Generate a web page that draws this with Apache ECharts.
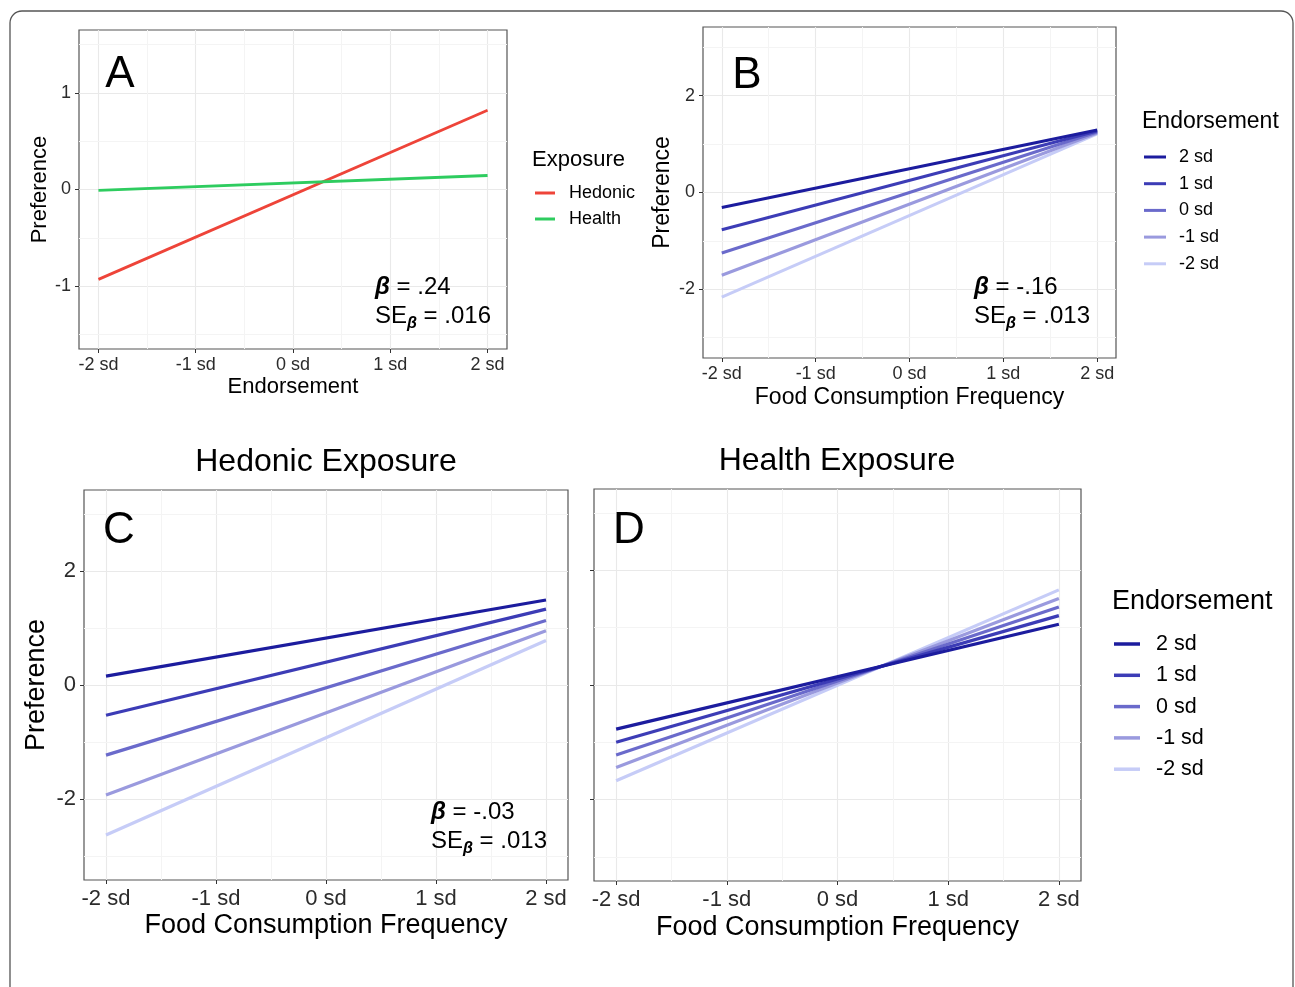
<!DOCTYPE html>
<html>
<head>
<meta charset="utf-8">
<script src="https://cdn.jsdelivr.net/npm/echarts@6/dist/echarts.min.js"></script>
<style>
html,body{margin:0;padding:0;background:#fff;}
#c{width:1295px;height:987px;}
</style>
</head>
<body>
<div id="c"></div>
<script>
// ---------- data ----------
const xEnds = [-2, 2];
const xTickValues = [-2, -1, 0, 1, 2];
const xTickLabels = ['-2 sd', '-1 sd', '0 sd', '1 sd', '2 sd'];
const xMinorValues = [-1.5, -0.5, 0.5, 1.5];
const yTickA = [-1, 0, 1];
const yMinorA = [-1.5, -0.5, 0.5, 1.5];
const yTickBCD = [-2, 0, 2];
const yMinorBCD = [-3, -1, 1, 3];

const exposureNames = ['Hedonic', 'Health'];
const aHedonic = [-0.93, 0.82];
const aHealth = [-0.01, 0.145];

const endorseLevels = ['2 sd', '1 sd', '0 sd', '-1 sd', '-2 sd'];
const b2sd = [-0.31, 1.29];
const b1sd = [-0.77, 1.27];
const b0sd = [-1.25, 1.25];
const bm1sd = [-1.71, 1.23];
const bm2sd = [-2.16, 1.21];

const c2sd = [0.155, 1.49];
const c1sd = [-0.53, 1.33];
const c0sd = [-1.23, 1.13];
const cm1sd = [-1.93, 0.95];
const cm2sd = [-2.63, 0.78];

const d2sd = [-0.77, 1.06];
const d1sd = [-1.0, 1.21];
const d0sd = [-1.22, 1.36];
const dm1sd = [-1.44, 1.51];
const dm2sd = [-1.67, 1.66];

const annotA = ['.24', '.016'];
const annotB = ['-.16', '.013'];
const annotC = ['-.03', '.013'];

// ---------- style ----------
const FONT = '"Liberation Sans", Arial, sans-serif';
const exposureColors = ['#ee4439', '#2ecc5f'];
const endorseColors = ['#1c1c9e', '#3c3cb6', '#6a6acb', '#9a9ade', '#c6ccf7'];
const MAJOR = '#e9e9e9', MINOR = '#f4f4f4';

const chart = echarts.init(document.getElementById('c'), null, {renderer: 'canvas'});

const grids = [
  {left: 79, top: 30, width: 428, height: 319},
  {left: 703, top: 27, width: 413, height: 331},
  {left: 84, top: 490, width: 484, height: 390},
  {left: 594, top: 489, width: 487, height: 392}
].map(g => Object.assign(g, {show: true, backgroundColor: '#fff', borderColor: '#555', borderWidth: 1.2, containLabel: false}));

function xAxis(idx, fs, margin, name, nameFs, gap) {
  return {
    type: 'value', gridIndex: idx, min: -2.2, max: 2.2, position: 'bottom',
    axisLine: {show: false, onZero: false},
    axisTick: {show: true, length: 4, inside: false, lineStyle: {color: '#333'}, customValues: xTickValues},
    axisLabel: {customValues: xTickValues, fontSize: fs, color: '#2b2b2b', fontFamily: FONT, margin: margin,
      formatter: v => xTickLabels[xTickValues.indexOf(Math.round(v))]},
    splitLine: {show: true, lineStyle: {color: MAJOR, width: 1.1}},
    name: name, nameLocation: 'middle', nameGap: gap,
    nameTextStyle: {fontSize: nameFs, color: '#000', fontFamily: FONT}
  };
}
function yAxis(idx, min, max, ticks, fs, showLabels, name, nameFs, gap) {
  return {
    type: 'value', gridIndex: idx, min: min, max: max, position: 'left',
    axisLine: {show: false, onZero: false},
    axisTick: {show: true, length: 4, inside: false, lineStyle: {color: '#333'}, customValues: ticks},
    axisLabel: {show: showLabels, customValues: ticks, fontSize: fs, color: '#2b2b2b', fontFamily: FONT, margin: 8,
      formatter: v => String(Math.round(v))},
    splitLine: {show: true, lineStyle: {color: MAJOR, width: 1.1}},
    name: name, nameLocation: 'middle', nameGap: gap, nameRotate: 90,
    nameTextStyle: {fontSize: nameFs, color: '#000', fontFamily: FONT}
  };
}

function minorSeries(idx, xm, ym) {
  return {
    type: 'line', xAxisIndex: idx, yAxisIndex: idx, data: [], silent: true, z: 1,
    markLine: {
      silent: true, symbol: ['none', 'none'], animation: false, z: 1,
      label: {show: false},
      lineStyle: {color: MINOR, width: 1, type: 'solid'},
      emphasis: {disabled: true},
      data: xm.map(v => ({xAxis: v})).concat(ym.map(v => ({yAxis: v})))
    }
  };
}
function lineSeries(idx, name, vals, color, width) {
  return {
    type: 'line', name: name, xAxisIndex: idx, yAxisIndex: idx,
    data: xEnds.map((x, i) => [x, vals[i]]),
    showSymbol: false, symbol: 'none', z: 6, silent: true,
    lineStyle: {color: color, width: width}, itemStyle: {color: color}
  };
}

const series = [
  minorSeries(0, xMinorValues, yMinorA),
  minorSeries(1, xMinorValues, yMinorBCD),
  minorSeries(2, xMinorValues, yMinorBCD),
  minorSeries(3, xMinorValues, yMinorBCD),
  lineSeries(0, exposureNames[0], aHedonic, exposureColors[0], 2.8),
  lineSeries(0, exposureNames[1], aHealth, exposureColors[1], 2.8)
];
const bSets = [b2sd, b1sd, b0sd, bm1sd, bm2sd];
const cSets = [c2sd, c1sd, c0sd, cm1sd, cm2sd];
const dSets = [d2sd, d1sd, d0sd, dm1sd, dm2sd];
for (let i = endorseLevels.length - 1; i >= 0; i--) {
  series.push(lineSeries(1, endorseLevels[i], bSets[i], endorseColors[i], 3));
  series.push(lineSeries(2, endorseLevels[i], cSets[i], endorseColors[i], 3.2));
  series.push(lineSeries(3, endorseLevels[i], dSets[i], endorseColors[i], 3.2));
}

function legend(names, left, top, fs, lh, gap, w, h, pad) {
  return {
    data: names, orient: 'vertical', left: left, top: top, icon: 'rect',
    itemWidth: w, itemHeight: h, itemGap: gap, selectedMode: false, padding: 0,
    textStyle: {fontSize: fs, lineHeight: lh, color: '#000', fontFamily: FONT, padding: [0, 0, 0, pad]}
  };
}

function txt(text, x, y, fs, align) {
  return {type: 'text', x: x, y: y, silent: true, z: 10,
    style: {text: text, fontSize: fs, fontFamily: FONT, fill: '#000', align: align || 'center', verticalAlign: 'middle'}};
}
function annot(vals, x, y1, y2) {
  const rich = {
    b: {fontSize: 24, fontStyle: 'italic', fontWeight: 'bold', fontFamily: FONT, fill: '#000', lineHeight: 32, verticalAlign: 'middle'},
    n: {fontSize: 24, fontFamily: FONT, fill: '#000', lineHeight: 32, verticalAlign: 'middle'},
    s: {fontSize: 16, fontStyle: 'italic', fontWeight: 'bold', fontFamily: FONT, fill: '#000', lineHeight: 32, verticalAlign: 'bottom'}
  };
  return [
    {type: 'text', x: x, y: y1, silent: true, z: 10,
      style: {text: '{b|β}{n| = ' + vals[0] + '}', rich: rich, align: 'left', verticalAlign: 'middle'}},
    {type: 'text', x: x, y: y2, silent: true, z: 10,
      style: {text: '{n|SE}{s|β}{n| = ' + vals[1] + '}', rich: rich, align: 'left', verticalAlign: 'middle'}}
  ];
}

const graphic = [
  {type: 'rect', shape: {x: 10, y: 11, width: 1283, height: 1000, r: 12}, silent: true, z: -1,
    style: {fill: 'none', stroke: '#555', lineWidth: 1.3}},
  txt('A', 120, 75, 44),
  txt('B', 747, 76, 44),
  txt('C', 119, 531, 44),
  txt('D', 629, 531, 44),
  txt('Exposure', 532, 160, 22, 'left'),
  txt('Endorsement', 1142, 122, 23, 'left'),
  txt('Endorsement', 1112, 602, 27, 'left'),
  txt('Hedonic Exposure', 326, 462, 32),
  txt('Health Exposure', 837, 461, 32)
].concat(annot(annotA, 375, 287, 316), annot(annotB, 974, 287, 316), annot(annotC, 431, 812, 841));

chart.setOption({
  animation: false,
  backgroundColor: '#fff',
  textStyle: {fontFamily: FONT},
  grid: grids,
  xAxis: [
    xAxis(0, 18, 7, 'Endorsement', 22, 27),
    xAxis(1, 18, 7, 'Food Consumption Frequency', 23, 28),
    xAxis(2, 22, 8, 'Food Consumption Frequency', 27, 32),
    xAxis(3, 22, 8, 'Food Consumption Frequency', 27, 33)
  ],
  yAxis: [
    yAxis(0, -1.65, 1.65, yTickA, 18, true, 'Preference', 22, 28),
    yAxis(1, -3.42, 3.42, yTickBCD, 18, true, 'Preference', 23, 29),
    yAxis(2, -3.42, 3.42, yTickBCD, 22, true, 'Preference', 27, 34),
    yAxis(3, -3.42, 3.42, yTickBCD, 22, false, '', 27, 34)
  ],
  legend: [
    legend(exposureNames, 535, 183, 18, 20, 6, 20, 3, 9),
    legend(endorseLevels, 1144, 147, 18, 20, 6.7, 22, 3, 8),
    legend(endorseLevels, 1114, 632, 21.5, 24, 7.3, 26, 3.5, 11)
  ],
  graphic: graphic,
  series: series
});
</script>
</body>
</html>
